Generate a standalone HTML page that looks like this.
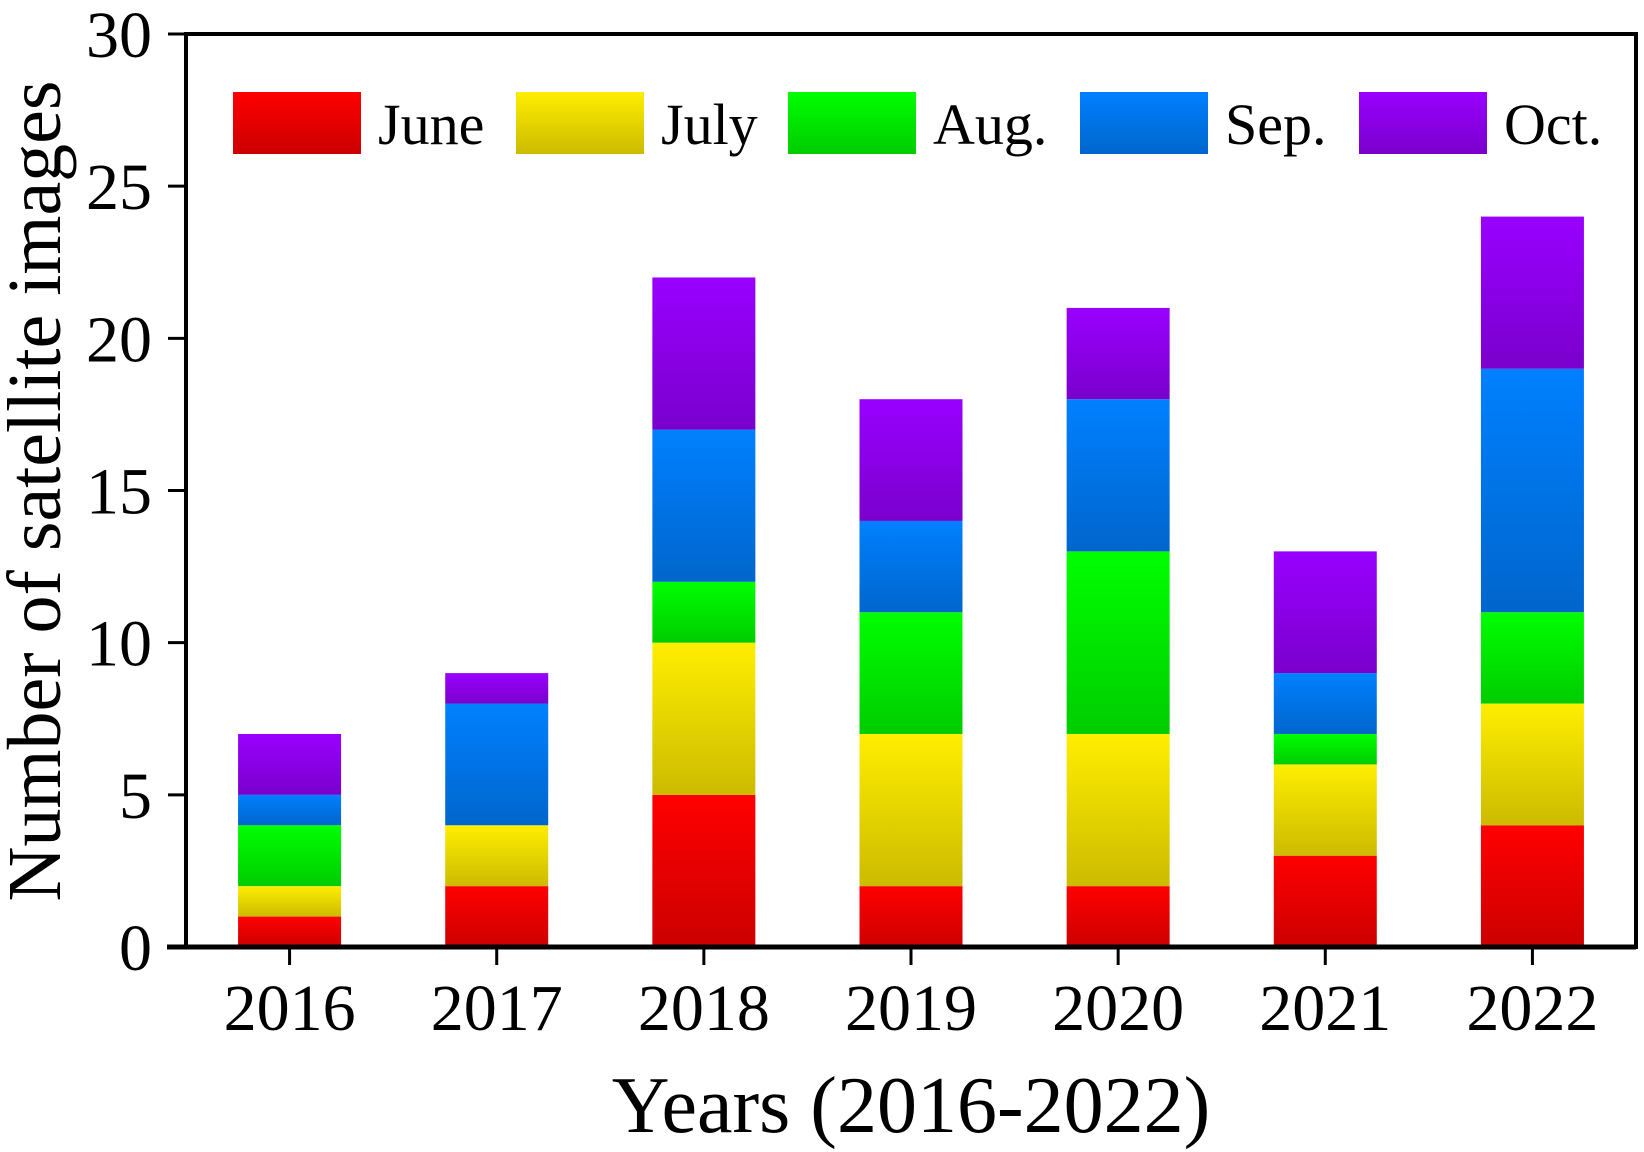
<!DOCTYPE html>
<html><head><meta charset="utf-8"><style>
body{margin:0;background:#fff}
svg{display:block;font-family:"Liberation Serif",serif}
</style></head><body>
<svg id="chart" width="1644" height="1152" viewBox="0 0 1644 1152">
<defs>
<linearGradient id="g0" x1="0" y1="0" x2="0" y2="1"><stop offset="0" stop-color="#ff0000"/><stop offset="1" stop-color="#cc0000"/></linearGradient>
<linearGradient id="g1" x1="0" y1="0" x2="0" y2="1"><stop offset="0" stop-color="#ffee00"/><stop offset="1" stop-color="#ccbb00"/></linearGradient>
<linearGradient id="g2" x1="0" y1="0" x2="0" y2="1"><stop offset="0" stop-color="#00ff00"/><stop offset="1" stop-color="#00cc00"/></linearGradient>
<linearGradient id="g3" x1="0" y1="0" x2="0" y2="1"><stop offset="0" stop-color="#0080ff"/><stop offset="1" stop-color="#0066cc"/></linearGradient>
<linearGradient id="g4" x1="0" y1="0" x2="0" y2="1"><stop offset="0" stop-color="#9900ff"/><stop offset="1" stop-color="#7a00cc"/></linearGradient>
</defs>
<g id="bars"></g>
<g id="axes"></g>
<g id="legend"></g>
<text x="35" y="491" font-size="76" text-anchor="middle" dominant-baseline="central" transform="rotate(-90 35 491)">Number of satellite images</text>
<text x="911" y="1132" font-size="80" text-anchor="middle">Years (2016-2022)</text>
</svg>
<script>
const categories = ["2016","2017","2018","2019","2020","2021","2022"];
const seriesNames = ["June","July","Aug.","Sep.","Oct."];
const june = [1,2,5,2,2,3,4];
const july = [1,2,5,5,5,3,4];
const aug = [2,0,2,4,6,1,3];
const sep = [1,4,5,3,5,2,8];
const oct = [2,1,5,4,3,4,5];
const yTicks = [0,5,10,15,20,25,30];

const NS = "http://www.w3.org/2000/svg";
const L = 186, R = 1636, T = 34, B = 947, YMAX = 30;
const band = (R - L) / categories.length;
const barW = 103;
const xC = i => L + (i + 0.5) * band;
const y = v => B - (v / YMAX) * (B - T);
function mk(tag, attrs, parent) {
  const e = document.createElementNS(NS, tag);
  for (const k in attrs) e.setAttribute(k, attrs[k]);
  parent.appendChild(e);
  return e;
}
const series = [june, july, aug, sep, oct];
const bars = document.getElementById("bars");
categories.forEach((c, i) => {
  let base = 0;
  series.forEach((s, k) => {
    const v = s[i];
    if (v > 0) {
      const r = mk("rect", {x: xC(i) - barW / 2, y: y(base + v), width: barW, height: y(base) - y(base + v), fill: "url(#g" + k + ")"}, bars);
      
      
    }
    base += v;
  });
});
const axes = document.getElementById("axes");
const frame = mk("rect", {x: L, y: T, width: R - L, height: B - T, fill: "none", stroke: "#000", "stroke-width": 4}, axes);


const xl = mk("line", {x1: 167, y1: B, x2: R, y2: B, stroke: "#000", "stroke-width": 5}, axes);


yTicks.forEach(t => {
  const tk = mk("line", {x1: L - 18, y1: y(t), x2: L, y2: y(t), stroke: "#000", "stroke-width": 3}, axes);
  
  
  const tx = mk("text", {x: 152, y: y(t) + 23, "font-size": 66, "text-anchor": "end"}, axes);
  tx.textContent = t;
  
  
});
categories.forEach((c, i) => {
  const tk = mk("line", {x1: xC(i), y1: B, x2: xC(i), y2: B + 18, stroke: "#000", "stroke-width": 3}, axes);
  
  
  const tx = mk("text", {x: xC(i), y: 1030, "font-size": 66, "text-anchor": "middle"}, axes);
  tx.textContent = c;
  
  
});
const legend = document.getElementById("legend");
const legX = [233, 516, 788, 1080, 1359];
seriesNames.forEach((n, k) => {
  const g = mk("g", {}, legend);
  
  
  mk("rect", {x: legX[k], y: 92, width: 128, height: 62, fill: "url(#g" + k + ")"}, g);
  const t = mk("text", {x: legX[k] + 145, y: 144, "font-size": 58}, g);
  t.textContent = n;
});
</script>
</body></html>
